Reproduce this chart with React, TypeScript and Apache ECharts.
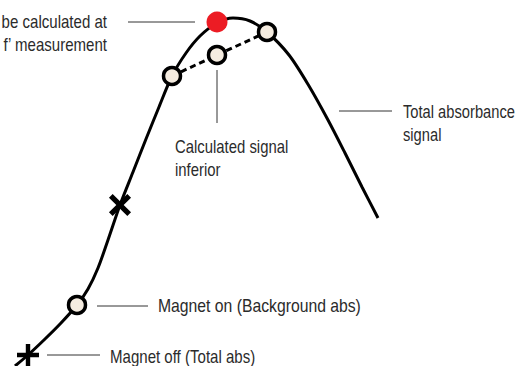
import React, { useEffect, useRef } from "react";
import * as echarts from "echarts";

// Abstract time axis (0..518) and absorbance axis (0..366)
const curveTime = [15, 28, 45, 61, 77, 88, 98, 108, 120, 133, 146, 159, 172, 186, 200, 217, 233, 250, 267, 289, 309, 328, 345, 362, 378];
const curveSignal = [0, 11, 27, 43, 61, 77, 98, 126, 161, 194, 227, 259, 290, 313, 330, 343, 348, 345, 334, 311, 280, 246, 213, 179, 148];

const inferiorTime = [172, 217, 267];
const inferiorSignal = [290, 311, 334];

const onTime = [77, 172, 217, 267];
const onSignal = [61, 290, 311, 334];

const offTime = [28, 120];
const offSignal = [11, 161];
const offRotation = [0, 45];

const redTime = [217];
const redSignal = [344];

const labelTexts = [
  "be calculated at\nf\u2019 measurement",
  "Calculated signal\ninferior",
  "Total absorbance\nsignal",
  "Magnet on (Background abs)",
  "Magnet off (Total abs)",
];
const leaderLines = [
  [[128, 344], [195, 344]],
  [[217, 296], [217, 243]],
  [[339, 255], [392, 255]],
  [[97, 60], [148, 60]],
  [[47, 11], [100, 11]],
];

const FONT = "'Liberation Sans', Arial, sans-serif";
const PLUS = "path://M4,0 H6 V4 H10 V6 H6 V10 H4 V6 H0 V4 H4 Z";

export default function App() {
  const ref = useRef<HTMLDivElement>(null);
  useEffect(() => {
    if (!ref.current) return;
    const chart = echarts.init(ref.current, null, { renderer: "svg" });
    const zip = (a: number[], b: number[]) => a.map((v, i) => [v, b[i]]);
    const ts = (text: string, align = "left") => ({
      text,
      fill: "#2b2b2b",
      font: `17.5px ${FONT}`,
      lineHeight: 23,
      align,
      verticalAlign: "top",
    });
    chart.setOption({
      animation: false,
      backgroundColor: "#ffffff",
      grid: { left: 0, right: 0, top: 0, bottom: 0 },
      xAxis: { type: "value", min: 0, max: 518, show: false },
      yAxis: { type: "value", min: 0, max: 366, show: false },
      series: [
        ...leaderLines.map((l) => ({
          type: "line",
          data: l,
          symbol: "none",
          lineStyle: { color: "#333", width: 1 },
          silent: true,
        })),
        {
          type: "line",
          data: zip(curveTime, curveSignal),
          smooth: 0.3,
          symbol: "none",
          lineStyle: { color: "#000", width: 3 },
          z: 3,
        },
        {
          type: "line",
          data: zip(inferiorTime, inferiorSignal),
          symbol: "none",
          lineStyle: { color: "#000", width: 3, type: [6, 4] },
          z: 3,
        },
        {
          type: "scatter",
          data: offTime.map((t, i) => ({
            value: [t, offSignal[i]],
            symbolRotate: offRotation[i],
            symbolSize: i === 0 ? 22 : 26,
          })),
          symbol: PLUS,
          itemStyle: { color: "#000", opacity: 1 },
          z: 4,
        },
        {
          type: "scatter",
          data: zip(onTime, onSignal),
          symbol: "circle",
          symbolSize: 17,
          itemStyle: { color: "#f5ece0", borderColor: "#000", borderWidth: 3.5, opacity: 1 },
          z: 5,
        },
        {
          type: "scatter",
          data: zip(redTime, redSignal),
          symbol: "circle",
          symbolSize: 21,
          itemStyle: { color: "#ec1c24", opacity: 1 },
          z: 5,
        },
      ],
      graphic: [
        { type: "text", x: 107, y: 10, scaleX: 0.86, style: ts(labelTexts[0], "right") },
        { type: "text", x: 175, y: 135, scaleX: 0.85, style: ts(labelTexts[1]) },
        { type: "text", x: 403, y: 100, scaleX: 0.84, style: ts(labelTexts[2]) },
        { type: "text", x: 158, y: 295, scaleX: 0.9, style: ts(labelTexts[3]) },
        { type: "text", x: 110, y: 345.5, scaleX: 0.86, style: ts(labelTexts[4]) },
      ],
    });
    return () => chart.dispose();
  }, []);
  return <div ref={ref} style={{ position: "fixed", left: 0, top: 0, width: 518, height: 366 }} />;
}
